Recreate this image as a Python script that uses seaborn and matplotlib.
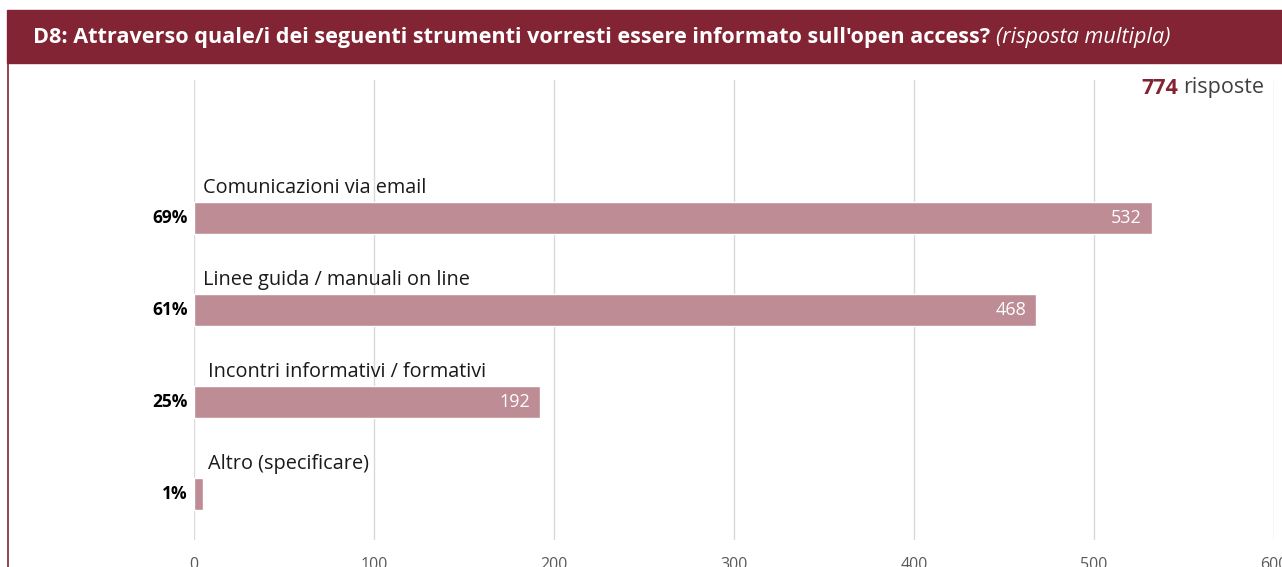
import matplotlib
matplotlib.use('Agg')
import matplotlib.pyplot as plt
import seaborn as sns
from matplotlib.patches import Rectangle
from matplotlib.lines import Line2D

TITLE = "D8: Attraverso quale/i dei seguenti strumenti vorresti essere informato sull'open access?"
SUBTITLE = "(risposta multipla)"
CATEGORIES = [
    'Comunicazioni via email',
    'Linee guida / manuali on line',
    'Incontri informativi / formativi',
    'Altro (specificare)',
]
COUNTS = [532, 468, 192, 5]
PERCENTS = ['69%', '61%', '25%', '1%']
TOTAL = 774
X_TICKS = [0, 100, 200, 300, 400, 500, 600]

DARK_RED = '#822433'
BAR_COLOR = '#be8c94'
GRID_COLOR = '#d9d9d9'

sns.set_theme(style='white')
plt.rcParams['font.family'] = ['Open Sans', 'DejaVu Sans']

fig = plt.figure(figsize=(12.82, 5.67), dpi=100)
ax = fig.add_axes([194 / 1282, 1 - 540 / 567, 1080 / 1282, 460 / 567])

sns.barplot(x=COUNTS, y=list(range(len(CATEGORIES))), orient='h', color=BAR_COLOR,
            width=0.35, saturation=1, ax=ax, native_scale=True)

ax.set_xlim(0, 600)
ax.set_ylim(3.5, -1.5)
ax.set_xticks(X_TICKS)
ax.set_yticks([])
ax.grid(axis='x', color=GRID_COLOR, linewidth=1)
ax.set_axisbelow(True)
for s in ax.spines.values():
    s.set_visible(False)
ax.tick_params(axis='x', length=0, pad=12, labelsize=11.5, labelcolor='#595959')
ax.set_xlabel('')
ax.set_ylabel('')

for i, (cat, n, p) in enumerate(zip(CATEGORIES, COUNTS, PERCENTS)):
    ax.text(5 + (3 if i >= 2 else 0), i - 0.27, cat, fontsize=14.3, color='#1a1a1a',
            ha='left', va='baseline')
    ax.text(-3.5, i, p, fontsize=12.5, fontweight='bold', color='black',
            ha='right', va='center')
    if n > 20:
        ax.text(n - 5.5, i, str(n), fontsize=13, color='white', ha='right', va='center')
    else:
        # value too small to fit inside the bar: white label just past its end
        ax.text(n + 1, i, str(n), fontsize=13, color='white', ha='left', va='center')

# title bar
fig.patches.append(Rectangle((7 / 1282, 1 - 63 / 567), 1, 53 / 567, transform=fig.transFigure,
                             color=DARK_RED, zorder=0))
fig.lines.append(Line2D([8 / 1282, 8 / 1282], [0, 1 - 60 / 567], transform=fig.transFigure,
                        color=DARK_RED, linewidth=1.2))
t = fig.text(33 / 1282, 1 - 37 / 567, TITLE, color='white', fontsize=15.6,
             fontweight='bold', ha='left', va='center')
fig.canvas.draw()
bb = t.get_window_extent()
fig.text(bb.x1 / 1282 + 6 / 1282, 1 - 37 / 567, SUBTITLE, color='white', fontsize=15.6,
         fontstyle='italic', ha='left', va='center')

t2 = fig.text(1141 / 1282, 1 - 88 / 567, str(TOTAL), color=DARK_RED, fontsize=15.5,
              fontweight='bold', ha='left', va='center')
fig.canvas.draw()
bb2 = t2.get_window_extent()
fig.text(bb2.x1 / 1282 + 5 / 1282, 1 - 88 / 567, 'risposte', color='#404040', fontsize=15.5,
         ha='left', va='center')

fig.savefig('out.png', dpi=100)
